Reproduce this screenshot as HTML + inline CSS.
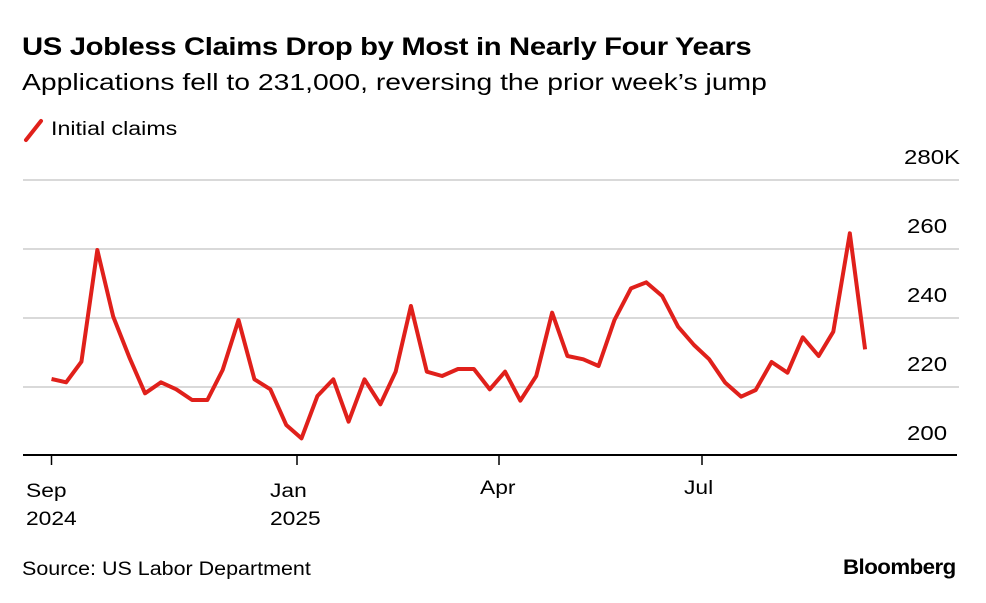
<!DOCTYPE html>
<html><head><meta charset="utf-8"><style>
body{margin:0;width:986px;height:603px;background:#fff;font-family:"Liberation Sans",Arial,sans-serif;color:#000;position:relative;overflow:hidden}
.t{position:absolute;white-space:nowrap;transform-origin:0 0;transform:scaleX(1.2)}
</style></head><body>
<div class="t" style="left:22px;top:33px;font-size:25px;font-weight:bold;letter-spacing:-0.3px;transform:scaleX(1.17)">US Jobless Claims Drop by Most in Nearly Four Years</div>
<div class="t" style="left:22px;top:69px;font-size:23px;transform:scaleX(1.23)">Applications fell to 231,000, reversing the prior week’s jump</div>
<div class="t" style="left:51px;top:119px;font-size:19px;transform:scaleX(1.22)">Initial claims</div>
<svg width="986" height="603" style="position:absolute;left:0;top:0">
<line x1="26" y1="140" x2="41" y2="121" stroke="#e0201b" stroke-width="4" stroke-linecap="round"/>
<g stroke="#d9d9d9" stroke-width="2">
<line x1="23" y1="180" x2="959" y2="180"/><line x1="23" y1="249" x2="959" y2="249"/><line x1="23" y1="318" x2="959" y2="318"/><line x1="23" y1="387" x2="959" y2="387"/>
</g>
<line x1="23" y1="455" x2="957" y2="455" stroke="#000" stroke-width="2"/>
<g stroke="#000" stroke-width="1.5"><line x1="51.5" y1="455" x2="51.5" y2="465"/><line x1="297" y1="455" x2="297" y2="465"/><line x1="499" y1="455" x2="499" y2="465"/><line x1="702" y1="455" x2="702" y2="465"/></g>
<g transform="translate(0,150) scale(0.6361,0.33333)">
<polyline fill="none" stroke="#e0201b" stroke-width="4" vector-effect="non-scaling-stroke" stroke-linejoin="round" points="81,687 104,697 128,635 153,300 178,500 204,625 228,730 253,697 277,718 302,750 326,750 350,660 375,510 400,688 425,718 450,825 474,865 499,738 524,688 548,815 573,688 598,763 622,665 646,468 671,665 695,678 720,657 745,657 770,718 794,665 818,752 843,678 868,488 892,618 917,628 941,648 966,510 992,415 1016,397 1041,438 1066,530 1091,585 1115,628 1140,698 1165,740 1188,720 1213,636 1238,668 1262,562 1287,618 1310,545 1336,250 1360,598"/>
</g>
</svg>
<div class="t" style="left:904px;top:147px;font-size:20px">280K</div>
<div class="t" style="left:907px;top:216px;font-size:20px">260</div>
<div class="t" style="left:907px;top:285px;font-size:20px">240</div>
<div class="t" style="left:907px;top:354px;font-size:20px">220</div>
<div class="t" style="left:907px;top:423px;font-size:20px">200</div>
<div class="t" style="left:26px;top:478px;font-size:19px;line-height:28px">Sep<br>2024</div>
<div class="t" style="left:270px;top:478px;font-size:19px;line-height:28px">Jan<br>2025</div>
<div class="t" style="left:480px;top:478px;font-size:19px">Apr</div>
<div class="t" style="left:684px;top:478px;font-size:19px">Jul</div>
<div class="t" style="left:22px;top:559px;font-size:19px;transform:scaleX(1.13)">Source: US Labor Department</div>
<div class="t" style="left:843px;top:556px;font-size:21px;font-weight:bold;letter-spacing:-0.5px;transform:scaleX(1.06)">Bloomberg</div>
</body></html>
